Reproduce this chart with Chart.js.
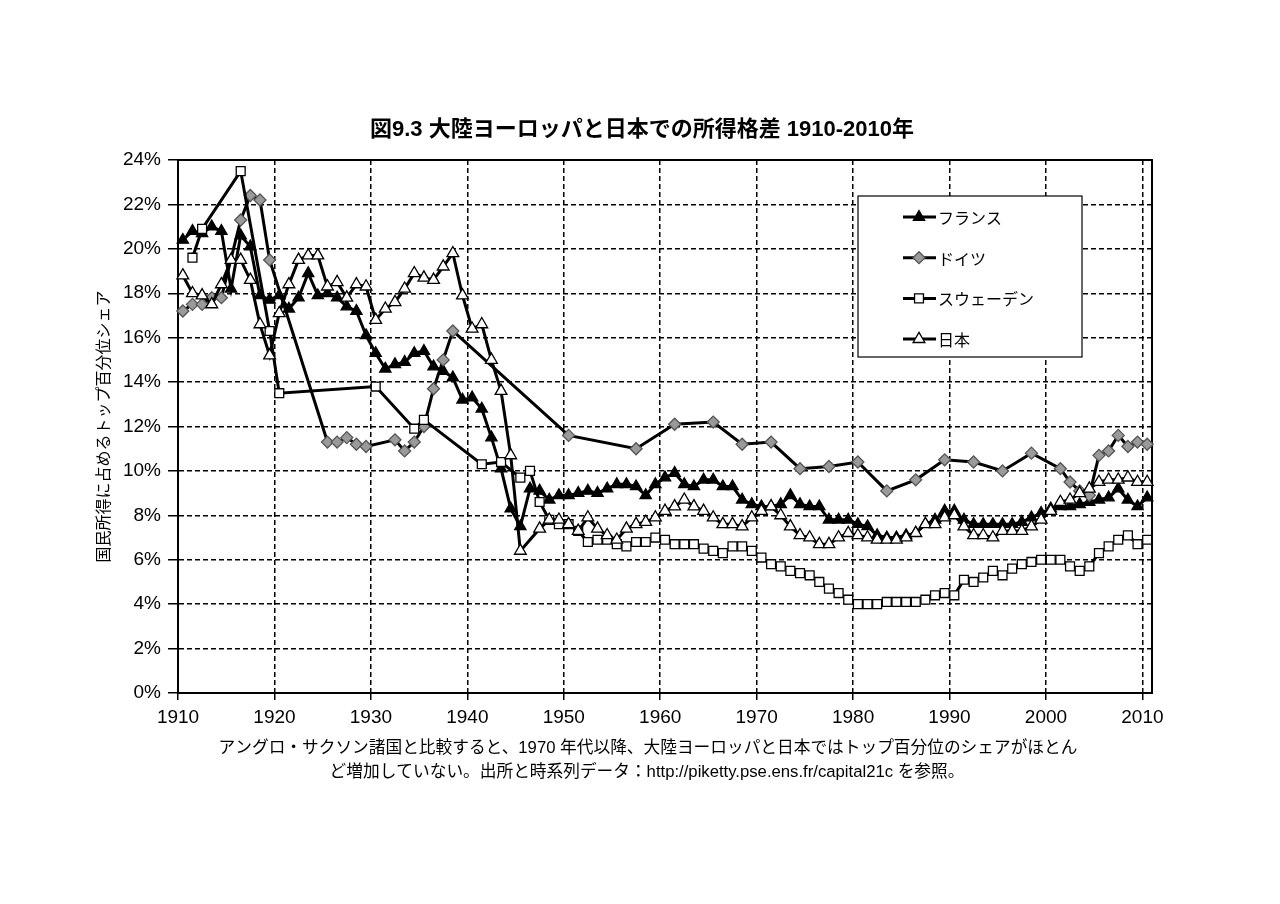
<!DOCTYPE html>
<html lang="ja">
<head>
<meta charset="UTF-8">
<title>図9.3 大陸ヨーロッパと日本での所得格差</title>
<script src="https://cdn.jsdelivr.net/npm/chart.js@4.4.1/dist/chart.umd.min.js"></script>
<style>
  html, body { margin: 0; padding: 0; background: #fff; }
  #grafico { display: block; }
</style>
</head>
<body>
<canvas id="grafico" width="1280" height="904"></canvas>
<script>
// Anos (categorias do eixo X)
const anos = [];
for (let a = 1910; a <= 2010; a++) anos.push(String(a));

// Rótulos do eixo X (décadas)
const rotulosX = ['1910', '1920', '1930', '1940', '1950', '1960', '1970', '1980', '1990', '2000', '2010'];

// Nomes das séries
const nomes = ['フランス', 'ドイツ', 'スウェーデン', '日本'];

// Participação do 1% mais rico (%), de 1910 a 2010
const franca = [
    20.4, 20.8, 20.7, 21.0, 20.8, 18.2, 20.6, 20.1, 17.9, 17.7, // 1910
    17.9, 17.3, 17.8, 18.9, 17.9, 18.0, 17.8, 17.4, 17.2, 16.1, // 1920
    15.3, 14.6, 14.8, 14.9, 15.3, 15.4, 14.7, 14.5, 14.2, 13.2, // 1930
    13.3, 12.8, 11.5, 10.1, 8.3, 7.5, 9.2, 9.1, 8.7, 8.9,       // 1940
    8.9, 9.0, 9.1, 9.0, 9.2, 9.4, 9.4, 9.3, 8.9, 9.4,           // 1950
    9.7, 9.9, 9.4, 9.3, 9.6, 9.6, 9.3, 9.3, 8.7, 8.5,           // 1960
    8.4, 8.4, 8.5, 8.9, 8.5, 8.4, 8.4, 7.8, 7.8, 7.8,           // 1970
    7.6, 7.5, 7.1, 7.0, 7.0, 7.1, 7.2, 7.6, 7.8, 8.2,           // 1980
    8.2, 7.8, 7.6, 7.6, 7.6, 7.6, 7.6, 7.7, 7.9, 8.1,           // 1990
    8.3, 8.4, 8.4, 8.5, 8.6, 8.7, 8.8, 9.2, 8.7, 8.4,           // 2000
    8.8                                                         // 2010
];

const alemanha = [
    17.2, 17.5, 17.5, 17.8, 17.8, null, 21.3, 22.4, 22.2, 19.5,
    null, null, null, null, null, 11.3, 11.3, 11.5, 11.2, 11.1,
    null, null, 11.4, 10.9, 11.3, 12.0, 13.7, 15.0, 16.3, null,
    null, null, null, null, null, null, null, null, null, null,
    11.6, null, null, null, null, null, null, 11.0, null, null,
    null, 12.1, null, null, null, 12.2, null, null, 11.2, null,
    null, 11.3, null, null, 10.1, null, null, 10.2, null, null,
    10.4, null, null, 9.1, null, null, 9.6, null, null, 10.5,
    null, null, 10.4, null, null, 10.0, null, null, 10.8, null,
    null, 10.1, 9.5, 9.1, 8.9, 10.7, 10.9, 11.6, 11.1, 11.3,
    11.2
];

const suecia = [
    null, 19.6, 20.9, null, null, null, 23.5, null, null, 16.3,
    13.5, null, null, null, null, null, null, null, null, null,
    13.8, null, null, null, 11.9, 12.3, null, null, null, null,
    null, 10.3, null, 10.4, null, 9.7, 10.0, 8.6, 7.8, 7.6,
    7.6, 7.3, 6.8, 6.9, 6.9, 6.7, 6.6, 6.8, 6.8, 7.0,
    6.9, 6.7, 6.7, 6.7, 6.5, 6.4, 6.3, 6.6, 6.6, 6.4,
    6.1, 5.8, 5.7, 5.5, 5.4, 5.3, 5.0, 4.7, 4.5, 4.2,
    4.0, 4.0, 4.0, 4.1, 4.1, 4.1, 4.1, 4.2, 4.4, 4.5,
    4.4, 5.1, 5.0, 5.2, 5.5, 5.3, 5.6, 5.8, 5.9, 6.0,
    6.0, 6.0, 5.7, 5.5, 5.7, 6.3, 6.6, 6.9, 7.1, 6.7,
    6.9
];

const japao = [
    18.8, 18.0, 17.9, 17.5, 18.4, 19.5, 19.5, 18.6, 16.6, 15.2,
    17.1, 18.4, 19.5, 19.7, 19.7, 18.3, 18.5, 17.8, 18.4, 18.3,
    16.8, 17.3, 17.6, 18.2, 18.9, 18.7, 18.6, 19.2, 19.8, 17.9,
    16.4, 16.6, 15.0, 13.6, 10.7, 6.4, null, 7.4, 7.8, 7.8,
    7.6, 7.3, 7.9, 7.4, 7.1, 6.9, 7.4, 7.6, 7.7, 7.9,
    8.2, 8.4, 8.7, 8.4, 8.2, 7.9, 7.6, 7.6, 7.5, 7.9,
    8.2, 8.4, 8.0, 7.5, 7.1, 7.0, 6.7, 6.7, 7.0, 7.2,
    7.1, 7.0, 6.9, 6.9, 6.9, 7.0, 7.2, 7.6, 7.6, 7.9,
    8.0, 7.5, 7.1, 7.1, 7.0, 7.3, 7.3, 7.3, 7.5, 7.8,
    8.2, 8.6, 8.7, 9.0, 9.2, 9.5, 9.6, 9.6, 9.7, 9.5,
    9.5
];

const fonteLatina = "'Liberation Sans', 'Noto Sans CJK JP', sans-serif";
const fonteJP = "'Noto Sans CJK JP', 'Liberation Sans', sans-serif";

// Estilos das séries (ordem igual a "nomes")
const estilos = [
    { pointStyle: 'triangle', radius: 6.5, fill: '#000', stroke: '#000' },
    { pointStyle: 'rectRot', radius: 6, fill: '#9a9a9a', stroke: '#555' },
    { pointStyle: 'rect', radius: 6.3, fill: '#fff', stroke: '#000' },
    { pointStyle: 'triangle', radius: 6.8, fill: '#fff', stroke: '#000' }
];

function serie(i, dados, ordem) {
    const e = estilos[i];
    return {
        label: nomes[i],
        data: dados,
        borderColor: '#000',
        borderWidth: 3,
        backgroundColor: e.fill,
        pointStyle: e.pointStyle,
        pointRadius: e.radius,
        pointHoverRadius: e.radius,
        pointBackgroundColor: e.fill,
        pointBorderColor: e.stroke,
        pointBorderWidth: 1.3,
        spanGaps: true,
        tension: 0,
        order: ordem
    };
}

// Moldura da área do gráfico
const moldura = {
    id: 'moldura',
    beforeDatasetsDraw(chart) {
        const a = chart.chartArea;
        const ctx = chart.ctx;
        ctx.save();
        ctx.strokeStyle = '#000';
        ctx.lineWidth = 2;
        ctx.strokeRect(a.left, a.top, a.right - a.left, a.bottom - a.top);
        ctx.restore();
    }
};

// Título, legenda e nota de rodapé
const textos = {
    id: 'textos',
    afterDraw(chart) {
        const ctx = chart.ctx;
        ctx.save();
        ctx.fillStyle = '#000';
        ctx.textAlign = 'center';
        ctx.textBaseline = 'middle';

        ctx.font = 'bold 22px ' + fonteLatina;
        ctx.fillText('図9.3 大陸ヨーロッパと日本での所得格差 1910-2010年', 642, 130);

        ctx.font = '16.7px ' + fonteLatina;
        ctx.fillText('アングロ・サクソン諸国と比較すると、1970 年代以降、大陸ヨーロッパと日本ではトップ百分位のシェアがほとん', 648, 748);
        ctx.fillText('ど増加していない。出所と時系列データ：http://piketty.pse.ens.fr/capital21c を参照。', 647, 772);

        // Legenda
        const lx = 858, ly = 196, lw = 224, lh = 161;
        ctx.fillStyle = '#fff';
        ctx.fillRect(lx, ly, lw, lh);
        ctx.strokeStyle = '#000';
        ctx.lineWidth = 1.2;
        ctx.strokeRect(lx, ly, lw, lh);

        ctx.textAlign = 'left';
        ctx.font = '16px ' + fonteJP;
        nomes.forEach(function (nome, i) {
            const y = 217 + i * 40.7;
            const e = estilos[i];
            ctx.strokeStyle = '#000';
            ctx.lineWidth = 3;
            ctx.beginPath();
            ctx.moveTo(903, y);
            ctx.lineTo(936, y);
            ctx.stroke();
            ctx.fillStyle = e.fill;
            ctx.strokeStyle = e.stroke;
            ctx.lineWidth = 1.3;
            Chart.helpers.drawPoint(ctx, { pointStyle: e.pointStyle, radius: e.radius, rotation: 0, borderWidth: 1.3 }, 919, y);
            ctx.fillStyle = '#000';
            ctx.fillText(nome, 938, y + 1);
        });
        ctx.restore();
    }
};

var ctxGrafico = document.getElementById('grafico').getContext('2d');
new Chart(ctxGrafico, {
    type: 'line',
    data: {
        labels: anos,
        datasets: [
            serie(0, franca, 3),
            serie(1, alemanha, 2),
            serie(2, suecia, 1),
            serie(3, japao, 0)
        ]
    },
    options: {
        responsive: false,
        animation: false,
        devicePixelRatio: 1,
        layout: { padding: { left: 88, right: 128, top: 160, bottom: 151 } },
        plugins: {
            legend: { display: false },
            title: { display: false },
            tooltip: { enabled: false }
        },
        scales: {
            x: {
                type: 'category',
                offset: true,
                grid: {
                    offset: true,
                    color: function (c) { return (c.index % 10 === 0 && c.index <= 100) ? '#000' : 'rgba(0,0,0,0)'; },
                    lineWidth: 1.5,
                    tickLength: 7
                },
                border: { color: '#000', width: 2, dash: [5, 3] },
                ticks: {
                    autoSkip: false,
                    maxRotation: 0,
                    minRotation: 0,
                    labelOffset: -4.8,
                    padding: 6,
                    color: '#000',
                    font: { family: fonteLatina, size: 19 },
                    callback: function (v, i) {
                        return rotulosX.includes(anos[i]) ? anos[i] : '';
                    }
                },
                afterFit: function (s) { s.height = 60; }
            },
            y: {
                min: 0,
                max: 24,
                grid: { color: '#000', lineWidth: 1.5, tickLength: 10 },
                border: { color: '#000', width: 2, dash: [5, 3] },
                ticks: {
                    stepSize: 2,
                    padding: 7,
                    color: '#000',
                    font: { family: fonteLatina, size: 19 },
                    callback: function (v) { return v + '%'; }
                },
                title: {
                    display: true,
                    text: '国民所得に占めるトップ百分位シェア',
                    color: '#000',
                    font: { family: fonteJP, size: 16 },
                    padding: { top: 5, bottom: 0 }
                },
                afterFit: function (s) { s.width = 90; }
            }
        }
    },
    plugins: [moldura, textos]
});
</script>
</body>
</html>
